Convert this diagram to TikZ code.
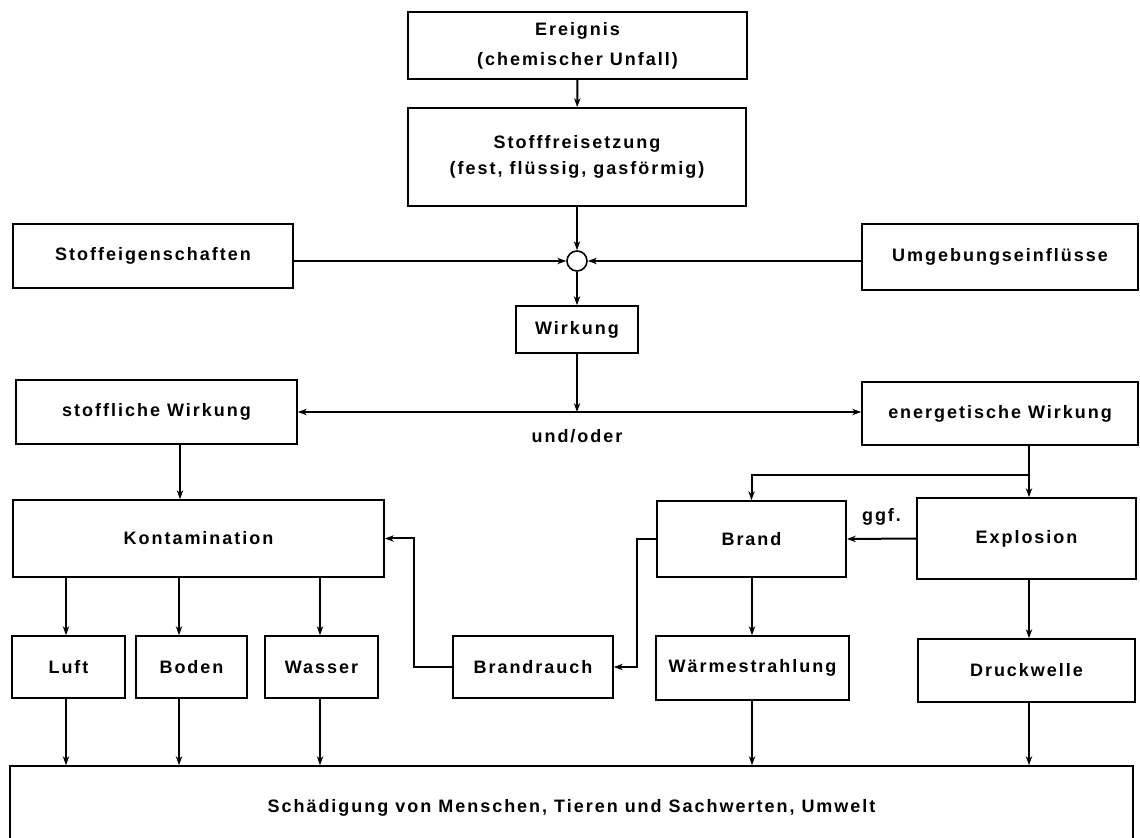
\documentclass[tikz,border=0pt]{standalone}
\usepackage{fontspec}
\newfontfamily\diafont{Liberation Sans}[LetterSpace=11]
\usetikzlibrary{arrows.meta}
\begin{document}
\begin{tikzpicture}[x=0.5pt, y=-0.5pt, line width=0.8pt,
  txt/.style={font=\diafont\bfseries\fontsize{9}{13}\selectfont, align=center},
  blk/.style={txt, draw, inner sep=0pt},
  arr/.style={-{Stealth[length=4.5pt, width=3.2pt]}, line width=1pt}]
  \useasboundingbox (0,0) rectangle (1140,838);
  \node[blk, minimum width=169.5pt, minimum height=33.5pt] (ereignis) at (577.5,45.5) {Ereignis\\[2pt](chemischer Unfall)};
  \node[blk, minimum width=169pt, minimum height=49pt] (freisetz) at (577,157) {Stofffreisetzung\\(fest, flüssig, gasförmig)};
  \node[blk, minimum width=140pt, minimum height=32pt] (stoffeig) at (153,256) {Stoffeigenschaften};
  \node[blk, minimum width=138pt, minimum height=33pt] (umgeb) at (1000,257) {Umgebungseinflüsse};
  \node[draw, circle, inner sep=0pt, minimum size=10pt] (knot) at (577,261) {};
  \node[blk, minimum width=61pt, minimum height=23.5pt] (wirkung) at (577,329.5) {Wirkung};
  \node[blk, minimum width=140.5pt, minimum height=32pt] (stoffl) at (156.5,412) {stoffliche Wirkung};
  \node[blk, minimum width=138pt, minimum height=31.5pt] (energ) at (1000,413.5) {energetische Wirkung};
  \node[txt] (undoder) at (577,436) {und/oder};
  \node[blk, minimum width=185.5pt, minimum height=38.5pt] (kontam) at (198.5,538.5) {Kontamination};
  \node[blk, minimum width=94.5pt, minimum height=38pt] (brand) at (751.5,539) {Brand};
  \node[blk, minimum width=109.5pt, minimum height=40.5pt] (explo) at (1026.5,538.5) {Explosion};
  \node[blk, minimum width=56.5pt, minimum height=31pt] (luft) at (68.5,667) {Luft};
  \node[blk, minimum width=55.5pt, minimum height=31pt] (boden) at (191.5,667) {Boden};
  \node[blk, minimum width=56.5pt, minimum height=31pt] (wasser) at (321.5,667) {Wasser};
  \node[blk, minimum width=80pt, minimum height=31pt] (brauch) at (533,667) {Brandrauch};
  \node[blk, minimum width=96.5pt, minimum height=32pt] (waerme) at (752.5,668) {Wärmestrahlung};
  \node[blk, minimum width=108.5pt, minimum height=31.5pt] (druck) at (1026.5,670.5) {Druckwelle};
  \node[blk, minimum width=561.5pt, minimum height=42pt] (schaed) at (571.5,808) {Schädigung von Menschen, Tieren und Sachwerten, Umwelt};
  \coordinate (xk) at (180,0);
  \coordinate (xl) at (66,0);
  \coordinate (xb) at (179,0);
  \coordinate (xw) at (320,0);
  \coordinate (xm) at (752,0);
  \coordinate (xd) at (1029,0);
  \coordinate (bl) at (637,0);
  \coordinate (kr) at (414,0);
  \coordinate (efork) at (1029,475);
  \draw[arr] (ereignis) -- (freisetz);
  \draw[arr] (freisetz) -- (knot);
  \draw[arr] (stoffeig.east |- knot) -- (knot);
  \draw[arr] (umgeb.west |- knot) -- (knot);
  \draw[arr] (knot) -- (wirkung);
  \coordinate (split) at (wirkung.south |- stoffl.east);
  \draw[arr] (wirkung) -- (split);
  \draw[arr] (split) -- (stoffl.east);
  \draw[arr] (split) -- (energ.west |- split);
  \draw[arr] (stoffl.south -| xk) -- (kontam.north -| xk);
  \draw (energ.south -| efork) -- (efork);
  \draw[arr] (efork) -- (explo.north -| efork);
  \draw[arr] (efork) -| (brand.north);
  \draw[arr] (explo.west) -- node[txt, above=3pt] (ggf) {ggf.} (brand.east);
  \draw[arr] (brand.west) -- (brand.west -| bl) -- (bl |- brauch.east) -- (brauch.east);
  \draw[arr] (brauch.west) -- (brauch.west -| kr) -- (kr |- kontam.east) -- (kontam.east);
  \foreach \n/\x in {luft/xl, boden/xb, wasser/xw}
    \draw[arr] (kontam.south -| \x) -- (\n.north -| \x);
  \draw[arr] (brand.south -| xm) -- (waerme.north -| xm);
  \draw[arr] (explo.south -| xd) -- (druck.north -| xd);
  \foreach \n/\x in {luft/xl, boden/xb, wasser/xw, waerme/xm, druck/xd}
    \draw[arr] (\n.south -| \x) -- (schaed.north -| \x);
\end{tikzpicture}
\end{document}
